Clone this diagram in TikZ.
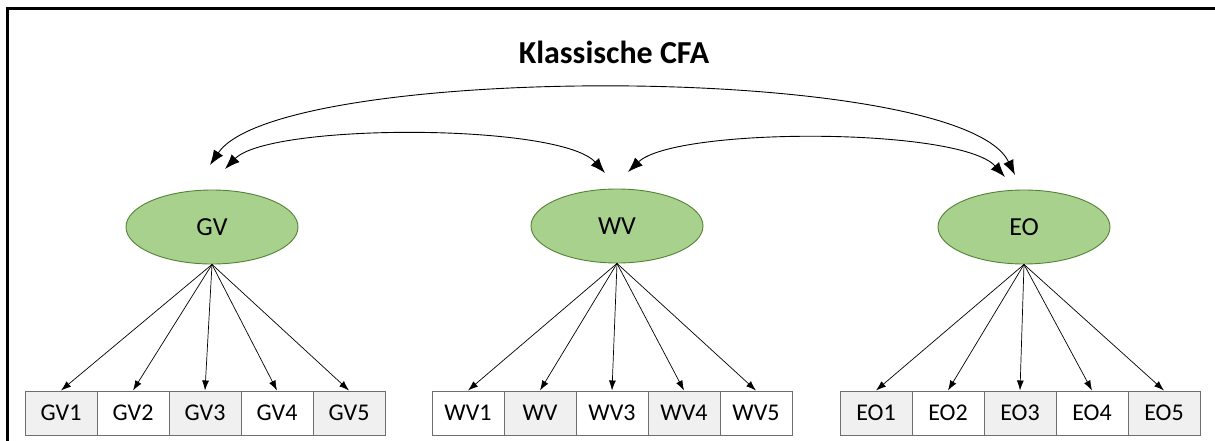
\documentclass[tikz,border=0pt]{standalone}
\usepackage{fontspec}
\setmainfont{Carlito}
\usetikzlibrary{arrows.meta,shapes.geometric}
\definecolor{lvfill}{RGB}{169,209,142}
\definecolor{lvdraw}{RGB}{84,130,53}
\definecolor{cellgray}{RGB}{240,240,240}
\definecolor{celldraw}{RGB}{110,110,110}
\tikzset{
  latent/.style={ellipse, draw=lvdraw, fill=lvfill, line width=0.9pt, minimum width=172pt, minimum height=74pt, inner sep=0pt, font=\fontsize{26}{30}\selectfont},
  cell/.style={rectangle, draw=celldraw, line width=1pt, minimum width=72pt, minimum height=44pt, inner sep=0pt, font=\fontsize{24}{28}\selectfont},
  gcell/.style={cell, fill=cellgray},
  wcell/.style={cell, fill=white},
  load/.style={-{Latex[length=10pt,width=7pt]}, line width=0.7pt, black},
  cov/.style={{Latex[length=15pt,width=11pt]}-{Latex[length=15pt,width=11pt]}, line width=0.9pt, black},
  frame/.style={line width=3pt, black},
}
\begin{document}
\begin{tikzpicture}[x=1pt,y=-1pt]
\useasboundingbox (0,0) rectangle (1215,441);
\draw[frame] (7,441) -- (7,9) -- (1215,9);
\node[font=\fontsize{32}{36}\selectfont\bfseries] (title) at (614,52) {Klassische CFA};
% latent variables
\node[latent] (GV) at (212,227) {GV};
\node[latent] (WV) at (617,226) {WV};
\node[latent] (EO) at (1024,227) {EO};
% indicators
\node[gcell] (GV1) at (61,413) {GV1};
\node[wcell] (GV2) at (133,413) {GV2};
\node[gcell] (GV3) at (205,413) {GV3};
\node[wcell] (GV4) at (277,413) {GV4};
\node[gcell] (GV5) at (349,413) {GV5};
\node[wcell] (WV1) at (468,413) {WV1};
\node[gcell] (WV2) at (540,413) {WV};
\node[wcell] (WV3) at (612,413) {WV3};
\node[gcell] (WV4) at (684,413) {WV4};
\node[wcell] (WV5) at (756,413) {WV5};
\node[gcell] (EO1) at (876,413) {EO1};
\node[wcell] (EO2) at (948,413) {EO2};
\node[gcell] (EO3) at (1020,413) {EO3};
\node[wcell] (EO4) at (1092,413) {EO4};
\node[gcell] (EO5) at (1164,413) {EO5};
% loadings
\foreach \i in {1,...,5} {
  \draw[load] (GV.south) -- (GV\i.north);
  \draw[load] (WV.south) -- (WV\i.north);
  \draw[load] (EO.south) -- (EO\i.north);
}
% covariance end points
\coordinate (gva) at (210,165);
\coordinate (gvb) at (225,169);
\coordinate (wva) at (605,173);
\coordinate (wvb) at (628,172);
\coordinate (eoa) at (1005,177);
\coordinate (eob) at (1015,175);
\draw[cov] (gva) .. controls (280,62) and (960,62) .. (eob);
\draw[cov] (gvb) .. controls (270,123) and (560,123) .. (wva);
\draw[cov] (wvb) .. controls (675,127) and (960,127) .. (eoa);
\end{tikzpicture}
\end{document}
